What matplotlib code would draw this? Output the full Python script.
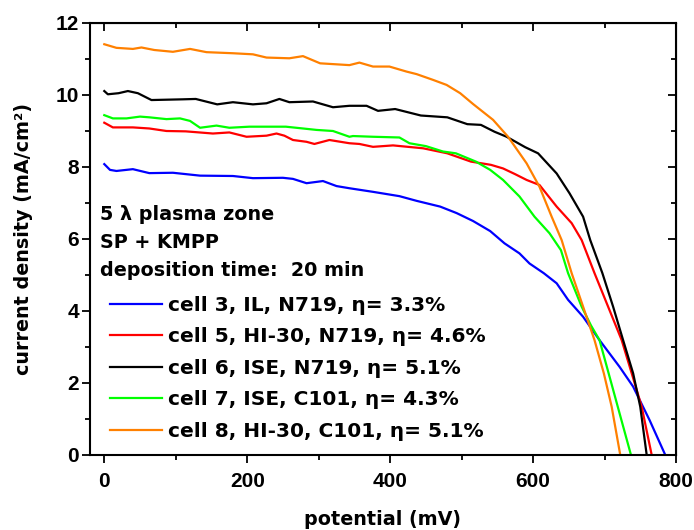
import matplotlib
matplotlib.use("Agg")
import matplotlib.pyplot as plt
from matplotlib.ticker import MultipleLocator

plt.rcParams['font.family'] = ['DejaVu Sans']
plt.rcParams['font.weight'] = 'bold'

# cell 3, IL, N719
v3 = [0, 8, 17, 40, 63, 96, 134, 180, 208, 250, 264, 283, 306, 325, 343, 376, 413, 437,
      470, 493, 516, 540, 560, 581, 595, 615, 633, 649, 670, 693, 721, 740, 763, 785]
j3 = [8.08, 7.92, 7.89, 7.94, 7.83, 7.84, 7.76, 7.75, 7.69, 7.70, 7.67, 7.55, 7.61, 7.47, 7.41,
      7.31, 7.19, 7.06, 6.90, 6.72, 6.50, 6.22, 5.88, 5.60, 5.32, 5.05, 4.77, 4.31, 3.84, 3.19,
      2.45, 1.90, 0.97, 0.0]
# cell 5, HI-30, N719
v5 = [0, 12, 40, 63, 87, 114, 152, 175, 199, 227, 241, 252, 264, 283, 294, 315, 343, 357, 376,
      404, 446, 480, 513, 541, 558, 575, 591, 609, 633, 654, 668, 686, 705, 724, 738, 752, 766]
j5 = [9.23, 9.10, 9.10, 9.07, 9.00, 8.99, 8.93, 8.96, 8.84, 8.87, 8.93, 8.87, 8.75, 8.70, 8.64,
      8.75, 8.66, 8.64, 8.56, 8.60, 8.52, 8.38, 8.15, 8.06, 7.96, 7.80, 7.64, 7.50, 6.90, 6.44,
      5.97, 5.05, 4.12, 3.19, 2.27, 1.34, 0.0]
# cell 6, ISE, N719
v6 = [0, 5, 20, 33, 47, 66, 110, 128, 158, 180, 208, 227, 245, 259, 292, 320, 343, 367, 383,
      407, 443, 480, 508, 527, 546, 563, 589, 607, 633, 651, 670, 680, 697, 712, 726, 740, 750, 759]
j6 = [10.11, 10.02, 10.05, 10.11, 10.05, 9.86, 9.88, 9.89, 9.74, 9.80, 9.74, 9.77, 9.89, 9.80,
      9.82, 9.66, 9.70, 9.70, 9.56, 9.61, 9.43, 9.38, 9.19, 9.17, 8.98, 8.84, 8.55, 8.38, 7.82,
      7.27, 6.62, 5.97, 5.05, 4.12, 3.19, 2.27, 1.34, 0.0]
# cell 7, ISE, C101
v7 = [0, 12, 31, 50, 63, 87, 106, 120, 134, 157, 175, 203, 254, 278, 297, 320, 343, 348, 376,
      413, 427, 450, 474, 492, 520, 540, 558, 581, 602, 623, 639, 649, 668, 681, 693, 710, 721, 737]
j7 = [9.44, 9.35, 9.35, 9.40, 9.38, 9.33, 9.35, 9.28, 9.09, 9.15, 9.09, 9.12, 9.12, 9.07, 9.03,
      9.00, 8.84, 8.86, 8.84, 8.82, 8.66, 8.58, 8.43, 8.38, 8.15, 7.92, 7.64, 7.18, 6.62, 6.16,
      5.69, 5.05, 4.12, 3.60, 3.19, 1.96, 1.16, 0.0]
# cell 8, HI-30, C101
v8 = [0, 17, 40, 52, 70, 96, 120, 143, 180, 208, 227, 259, 278, 302, 343, 357, 376, 399, 423,
      437, 460, 479, 498, 516, 544, 565, 591, 609, 626, 640, 654, 670, 686, 699, 710, 722]
j8 = [11.41, 11.31, 11.28, 11.32, 11.25, 11.20, 11.28, 11.19, 11.16, 11.13, 11.04, 11.02, 11.08,
      10.88, 10.83, 10.90, 10.79, 10.79, 10.65, 10.58, 10.42, 10.28, 10.05, 9.75, 9.31, 8.84,
      8.10, 7.45, 6.62, 5.97, 5.05, 4.12, 3.19, 2.27, 1.34, 0.0]

labels = ["cell 3, IL, N719, \u03b7= 3.3%",
          "cell 5, HI-30, N719, \u03b7= 4.6%",
          "cell 6, ISE, N719, \u03b7= 5.1%",
          "cell 7, ISE, C101, \u03b7= 4.3%",
          "cell 8, HI-30, C101, \u03b7= 5.1%"]
colors = ["#0000ff", "#ff0000", "#000000", "#00ff00", "#ff8000"]
series = [(v3, j3), (v5, j5), (v6, j6), (v7, j7), (v8, j8)]

FS_LEG = 14.5
FS_ANN = 13.8
FS_LAB = 13.8
FS_TICK = 15

fig = plt.figure(figsize=(6.94, 5.30), dpi=100)
ax = fig.add_axes([90/694, 1 - 455/530, (676-90)/694, (455-23)/530])

for (v, j), c, lab in zip(series, colors, labels):
    ax.plot(v, j, color=c, lw=1.6, label=lab)

ax.set_xlim(-20, 800)
ax.set_ylim(0, 12)
ax.xaxis.set_major_locator(MultipleLocator(200))
ax.xaxis.set_minor_locator(MultipleLocator(100))
ax.yaxis.set_major_locator(MultipleLocator(2))
ax.yaxis.set_minor_locator(MultipleLocator(1))
ax.tick_params(which='both', direction='out', width=1.3, labelsize=FS_TICK)
ax.tick_params(which='major', length=6)
ax.tick_params(which='minor', length=3.5)
ax.tick_params(axis='x', which='major', pad=6)
ax.tick_params(axis='y', which='major', pad=2)
for lab in ax.get_xticklabels() + ax.get_yticklabels():
    lab.set_fontfamily('Liberation Sans')
    lab.set_fontweight('bold')
for s in ax.spines.values():
    s.set_linewidth(1.5)

# mirrored inward ticks on top/right
axt = ax.secondary_xaxis('top')
axt.xaxis.set_major_locator(MultipleLocator(200))
axt.xaxis.set_minor_locator(MultipleLocator(100))
axt.tick_params(which='both', direction='in', width=1.3, labeltop=False)
axt.tick_params(which='major', length=6)
axt.tick_params(which='minor', length=3.5)
axr = ax.secondary_yaxis('right')
axr.yaxis.set_major_locator(MultipleLocator(2))
axr.yaxis.set_minor_locator(MultipleLocator(1))
axr.tick_params(which='both', direction='in', width=1.3, labelright=False)
axr.tick_params(which='major', length=6)
axr.tick_params(which='minor', length=3.5)

ax.set_xlabel("potential (mV)", fontsize=FS_LAB, fontweight='bold', labelpad=14)
ax.set_ylabel("current density (mA/cm\u00b2)", fontsize=FS_LAB, fontweight='bold', labelpad=16)

ax.text(100/694, 1 - 220/530, "5 \u03bb plasma zone", transform=fig.transFigure,
        fontsize=FS_ANN, fontweight='bold', va='baseline')
ax.text(100/694, 1 - 248/530, "SP + KMPP", transform=fig.transFigure,
        fontsize=FS_ANN, fontweight='bold', va='baseline')
ax.text(100/694, 1 - 276.5/530, "deposition time:  20 min", transform=fig.transFigure,
        fontsize=FS_ANN, fontweight='bold', va='baseline')

leg = ax.legend(loc='upper left', bbox_to_anchor=(110/694, 1 - 296/530),
                bbox_transform=fig.transFigure, frameon=False,
                prop={'size': FS_LEG, 'weight': 'bold'},
                handlelength=2.6, handletextpad=0.3, labelspacing=0.62,
                borderpad=0, borderaxespad=0)

fig.savefig("out.png", dpi=100)
